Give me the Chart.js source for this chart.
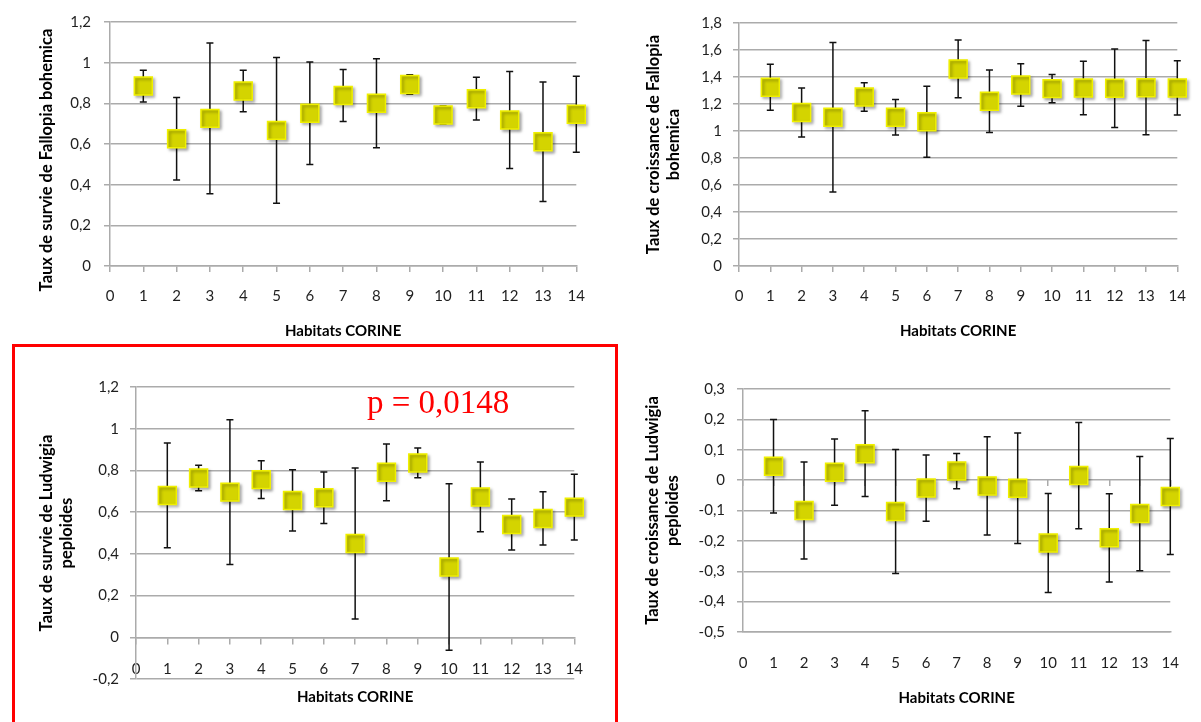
<!DOCTYPE html>
<html>
<head>
<meta charset="utf-8">
<script src="https://cdn.jsdelivr.net/npm/chart.js@4.4.1/dist/chart.umd.min.js"></script>
<style>
  html, body { margin: 0; padding: 0; background: #fff; }
  body { width: 1201px; height: 722px; position: relative; overflow: hidden; }
  canvas { position: absolute; }
  #cadre { position: absolute; left: 12px; top: 344px; width: 600px; height: 400px; border: 3px solid #ff0000; pointer-events: none; }
  #pval { position: absolute; left: 367px; top: 386px; font-family: 'Liberation Serif', serif; font-size: 33px; line-height: 33px; color: #ff0000; white-space: nowrap; }
</style>
</head>
<body>
<canvas id="survieFallopia" width="600" height="345" style="left:0;top:0"></canvas>
<canvas id="croissanceFallopia" width="601" height="345" style="left:600px;top:0"></canvas>
<canvas id="survieLudwigia" width="600" height="377" style="left:0;top:345px"></canvas>
<canvas id="croissanceLudwigia" width="601" height="377" style="left:600px;top:345px"></canvas>
<div id="cadre"></div>
<div id="pval">p = 0,0148</div>

<script>
// habitats CORINE 1 à 14
const habitats = [1, 2, 3, 4, 5, 6, 7, 8, 9, 10, 11, 12, 13, 14];

// moyennes et demi-intervalles (barres d'erreur)
const survieFallopia = [0.885, 0.626, 0.726, 0.861, 0.667, 0.751, 0.839, 0.800, 0.893, 0.743, 0.823, 0.718, 0.611, 0.746];
const survieFallopiaErr = [0.078, 0.203, 0.371, 0.102, 0.359, 0.252, 0.128, 0.219, 0.048, 0.045, 0.105, 0.238, 0.294, 0.187];

const croissanceFallopia = [1.324, 1.137, 1.102, 1.252, 1.102, 1.068, 1.460, 1.220, 1.341, 1.314, 1.319, 1.317, 1.321, 1.319];
const croissanceFallopiaErr = [0.170, 0.181, 0.554, 0.105, 0.132, 0.263, 0.214, 0.232, 0.158, 0.105, 0.198, 0.291, 0.349, 0.201];

const survieLudwigia = [0.680, 0.764, 0.696, 0.756, 0.656, 0.669, 0.450, 0.791, 0.836, 0.337, 0.673, 0.541, 0.570, 0.624];
const survieLudwigiaErr = [0.251, 0.061, 0.347, 0.090, 0.147, 0.123, 0.362, 0.136, 0.071, 0.399, 0.167, 0.122, 0.128, 0.158];

const croissanceLudwigia = [0.046, -0.100, 0.026, 0.087, -0.103, -0.026, 0.030, -0.019, -0.027, -0.207, 0.015, -0.190, -0.110, -0.054];
const croissanceLudwigiaErr = [0.154, 0.160, 0.109, 0.141, 0.204, 0.109, 0.058, 0.162, 0.182, 0.163, 0.175, 0.145, 0.188, 0.191];

const xTitle = 'Habitats CORINE';

const gridColor = '#ababab';
const tickColor = '#1f1f1f';
Chart.defaults.font.family = 'Lato, "Open Sans", sans-serif';

// virgule décimale
function fmt(v) {
    return String(Math.round(v * 10) / 10).replace('.', ',');
}

// barres d'erreur dessinées sous les marqueurs
const errorBars = {
    id: 'errorBars',
    beforeDatasetsDraw(chart, args, opts) {
        const ctx = chart.ctx;
        const yScale = chart.scales.y;
        chart.data.datasets.forEach((ds, i) => {
            chart.getDatasetMeta(i).data.forEach((pt, j) => {
                const v = ds.data[j].y;
                const e = opts.errors[j];
                const top = yScale.getPixelForValue(v + e);
                const bot = yScale.getPixelForValue(v - e);
                ctx.save();
                ctx.strokeStyle = '#111';
                ctx.lineWidth = 1.5;
                ctx.beginPath();
                ctx.moveTo(pt.x, top); ctx.lineTo(pt.x, bot);
                ctx.moveTo(pt.x - 3.5, top); ctx.lineTo(pt.x + 3.5, top);
                ctx.moveTo(pt.x - 3.5, bot); ctx.lineTo(pt.x + 3.5, bot);
                ctx.stroke();
                ctx.restore();
            });
        });
    }
};

// ombre portée des carrés
const markerShadow = {
    id: 'markerShadow',
    beforeDatasetDraw(chart) {
        const c = chart.ctx;
        c.save();
        c.shadowColor = 'rgba(0,0,0,0.35)';
        c.shadowBlur = 3;
        c.shadowOffsetX = 2;
        c.shadowOffsetY = 2;
    },
    afterDatasetDraw(chart) {
        chart.ctx.restore();
    }
};

function yAxis(min, max, step, title, titlePad, width, tickPad) {
    return {
        type: 'linear', min: min, max: max,
        ticks: { stepSize: step, padding: tickPad, color: tickColor, font: { size: 15 }, callback: fmt },
        grid: { color: gridColor, lineWidth: 1.5, tickLength: 6 },
        border: { color: gridColor, width: 1.5 },
        title: {
            display: true, text: title, color: '#000',
            font: { size: 16.5, weight: 'bold', lineHeight: 1.2 },
            padding: { top: titlePad, bottom: 0 }
        },
        afterFit: s => { s.width = width; }
    };
}

function xAxis(tickPad, height, titlePad, drawTicks) {
    return {
        type: 'linear', min: 0, max: 14,
        ticks: { stepSize: 1, padding: tickPad, color: tickColor, font: { size: 15 }, autoSkip: false, maxRotation: 0 },
        grid: { display: drawTicks, drawTicks: drawTicks, drawOnChartArea: false, tickLength: 6, color: gridColor, lineWidth: 1.5 },
        border: { color: gridColor, width: 1.5 },
        title: {
            display: titlePad !== null, text: xTitle, color: '#000',
            font: { size: 15, weight: 'bold', lineHeight: 1.3 },
            padding: { top: 0, bottom: titlePad || 0 }
        },
        afterFit: s => { s.height = height; }
    };
}

function makePanel(canvasId, values, errors, padding, scales) {
    return new Chart(document.getElementById(canvasId), {
        type: 'scatter',
        data: {
            datasets: [{
                data: habitats.map((h, i) => ({ x: h, y: values[i] })),
                xAxisID: 'x', yAxisID: 'y',
                pointStyle: 'rect',
                pointRadius: 12.7,
                pointHoverRadius: 12.7,
                backgroundColor: '#d4d400',
                borderColor: '#f0f000',
                borderWidth: 1.5,
                clip: false
            }]
        },
        options: {
            responsive: false,
            animation: false,
            events: [],
            layout: { padding: padding },
            plugins: {
                legend: { display: false },
                tooltip: { enabled: false },
                errorBars: { errors: errors }
            },
            scales: scales
        },
        plugins: [errorBars, markerShadow]
    });
}

// survie Fallopia (titre long, décalé vers le bas par des espaces de fin)
makePanel('survieFallopia', survieFallopia, survieFallopiaErr,
    { left: 0, right: 17, top: 21, bottom: 0 },
    {
        x: xAxis(15, 79, 4, true),
        y: yAxis(0, 1.2, 0.2, 'Taux de survie de Fallopia bohemica        ', 37, 110, 13)
    });

// croissance Fallopia
makePanel('croissanceFallopia', croissanceFallopia, croissanceFallopiaErr,
    { left: 0, right: 10, top: 23, bottom: 0 },
    {
        x: xAxis(15, 79, 4, true),
        y: yAxis(0, 1.8, 0.2, ['Taux de croissance de Fallopia', 'bohemica'], 44, 139, 11)
    });

// survie Ludwigia : axe des catégories croisant en 0
const xLud = xAxis(17, 60, null, true);
xLud.position = { y: 0 };
makePanel('survieLudwigia', survieLudwigia, survieLudwigiaErr,
    { left: 0, right: 17, top: 42, bottom: 0 },
    {
        x: xLud,
        xt: {
            type: 'linear', axis: 'x', position: 'bottom', min: 0, max: 14,
            ticks: { display: false },
            grid: { display: false },
            border: { display: false },
            title: {
                display: true, text: xTitle, color: '#000',
                font: { size: 15, weight: 'bold', lineHeight: 1.3 },
                padding: { top: 0, bottom: 15 }
            },
            afterFit: s => { s.height = 43; }
        },
        y: yAxis(-0.2, 1.2, 0.2, ['Taux de survie de Ludwigia', 'peploides'], 37, 136, 11)
    });

// croissance Ludwigia : étiquettes en bas, graduations sur la ligne 0
makePanel('croissanceLudwigia', croissanceLudwigia, croissanceLudwigiaErr,
    { left: 0, right: 12, top: 44, bottom: 0 },
    {
        x: xAxis(22, 90, 14, false),
        x0: {
            type: 'linear', axis: 'x', position: { y: 0 }, min: 0, max: 14,
            ticks: { stepSize: 1, display: false },
            grid: { drawOnChartArea: false, tickLength: 6, color: gridColor, lineWidth: 1.5 },
            border: { display: false }
        },
        y: yAxis(-0.5, 0.3, 0.1, ['Taux de croissance de Ludwigia', 'peploides'], 43, 143, 12)
    });
</script>
</body>
</html>
